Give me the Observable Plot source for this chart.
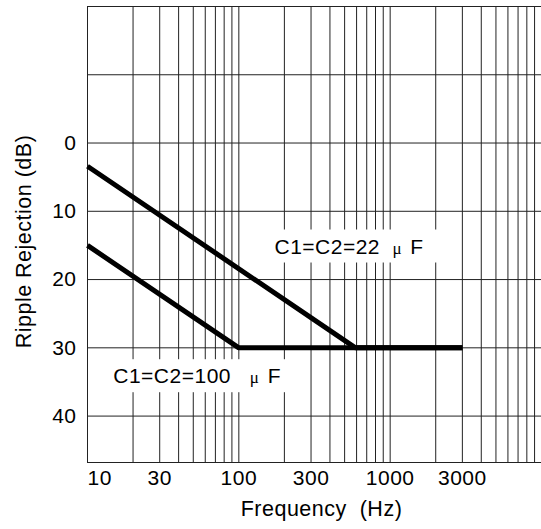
<!DOCTYPE html>
<html>
<head>
<meta charset="utf-8">
<script src="https://cdn.jsdelivr.net/npm/d3@7"></script>
<script src="https://cdn.jsdelivr.net/npm/@observablehq/plot@0.6"></script>
<style>
  html, body { margin: 0; padding: 0; background: #fff; }
  svg text { white-space: pre; letter-spacing: 0.5px; }
</style>
</head>
<body>
<div id="chart"></div>
<script>
// ---- data ----
const freq22 = [10, 590, 3000];
const rej22 = [3.4, 30, 30];
const freq100 = [10, 100, 3000];
const rej100 = [15, 30, 30];

const xTickLabels = [10, 30, 100, 300, 1000, 3000];
const yTickLabels = [0, 10, 20, 30, 40];
const xGrid = [20, 30, 40, 50, 60, 70, 80, 90, 100, 200, 300, 400, 500, 600, 700, 800, 900, 1000, 2000, 3000, 4000, 5000, 6000, 7000, 8000, 9000];
const yGrid = [-10, 0, 10, 20, 30, 40];

const labelText = ["C1=C2=22 μ F", "C1=C2=100  μ F"];
const labelFreq = [172, 14.8];
const labelDb = [15.2, 34.2];

const xLabel = "Frequency  (Hz)";
const yLabel = "Ripple Rejection (dB)";

const series = [
  ...freq22.map((f, i) => ({s: "22", f, r: rej22[i]})),
  ...freq100.map((f, i) => ({s: "100", f, r: rej100[i]}))
];
const labels = labelText.map((t, i) => ({t, f: labelFreq[i], r: labelDb[i], pr: i === 0 ? 24 : 4}));

const FS = 21;
const FL = 21.5;
const font = "Liberation Sans, Arial, sans-serif";

const chart = Plot.plot({
  width: 541,
  height: 529,
  marginLeft: 87,
  marginRight: 0,
  marginTop: 6,
  marginBottom: 67,
  style: {fontFamily: font, fontSize: FS + "px", background: "#fff", color: "#000"},
  x: {type: "log", domain: [10, 10000], axis: null},
  y: {domain: [-20, 46.8], reverse: true, axis: null},
  marks: [
    Plot.ruleX(xGrid, {x: d => d, stroke: "#222", strokeWidth: 1}),
    Plot.ruleY(yGrid, {y: d => d, stroke: "#222", strokeWidth: 1}),
    Plot.frame({stroke: "#222", strokeWidth: 1}),
    Plot.text(labels, {x: "f", y: "r", text: "t", textAnchor: "start", lineAnchor: "middle", fontSize: FS, fill: "#000", className: "lbl"}),
    Plot.line(series, {x: "f", y: "r", z: "s", stroke: "#000", strokeWidth: 5, strokeLinejoin: "miter", strokeLinecap: "butt"}),
    Plot.text(yTickLabels, {y: d => d, text: d => String(d), frameAnchor: "left", textAnchor: "end", lineAnchor: "middle", dx: -11, fontSize: FS, fill: "#000"}),
    Plot.text(xTickLabels.filter(d => d === 10), {x: d => d, text: d => String(d), frameAnchor: "bottom", textAnchor: "start", lineAnchor: "middle", dy: 16, fontSize: FS, fill: "#000"}),
    Plot.text(xTickLabels.filter(d => d !== 10), {x: d => d, text: d => String(d), frameAnchor: "bottom", textAnchor: "middle", lineAnchor: "middle", dy: 16, fontSize: FS, fill: "#000"}),
    Plot.text([xLabel], {text: d => d, frameAnchor: "bottom", textAnchor: "middle", lineAnchor: "middle", dy: 47, dx: 7, fontSize: FL, fill: "#000"}),
    Plot.text([yLabel], {text: d => d, frameAnchor: "left", textAnchor: "middle", lineAnchor: "middle", rotate: -90, dx: -63, dy: 7, fontSize: FL, fill: "#000"})
  ]
});

document.getElementById("chart").appendChild(chart);

// label styling: serif micro sign and white background boxes
d3.select(chart).selectAll("g.lbl text").each(function() {
  const el = d3.select(this);
  const txt = el.text();
  el.text(null);
  const parts = txt.split("μ");
  el.append("tspan").text(parts[0]);
  el.append("tspan").attr("dx", 6).attr("font-family", "Liberation Serif, serif").attr("font-size", 17).text("μ");
  el.append("tspan").attr("dx", 2).text(parts[1]);
});
d3.select(chart).selectAll("g.lbl text").each(function(_, i) {
  const b = this.getBBox();
  const pr = labels[i].pr;
  const t = this.getAttribute("transform");
  const rect = document.createElementNS("http://www.w3.org/2000/svg", "rect");
  rect.setAttribute("x", b.x - 12);
  rect.setAttribute("y", b.y - 5);
  rect.setAttribute("width", b.width + 12 + pr);
  rect.setAttribute("height", b.height + 10);
  rect.setAttribute("fill", "#fff");
  if (t) rect.setAttribute("transform", t);
  this.parentNode.insertBefore(rect, this);
});
</script>
</body>
</html>
